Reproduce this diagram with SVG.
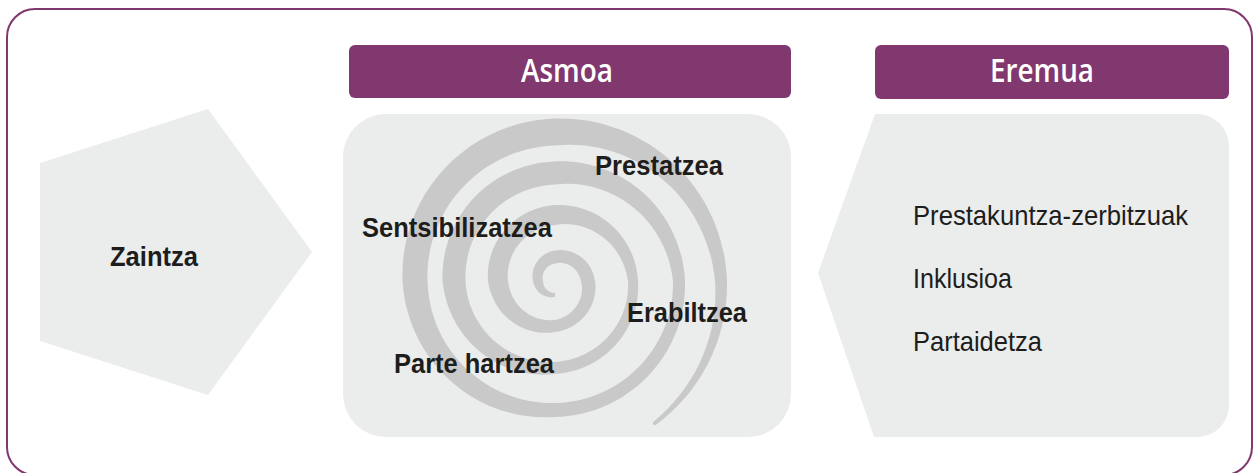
<svg xmlns="http://www.w3.org/2000/svg" width="1253" height="473" viewBox="0 0 1253 473">
<style>
.panel{fill:#ebecec}
.hdr{fill:#80386e}
.hdrt{font-family:"Open Sans","Liberation Sans",sans-serif;font-weight:600;font-size:33px;fill:#ffffff;text-anchor:middle}
.bold{font-family:"Liberation Sans",Arial,sans-serif;font-weight:bold;font-size:28px;fill:#1d1d1b}
.reg{font-family:"Liberation Sans",Arial,sans-serif;font-size:28px;fill:#1d1d1b}
</style>
<rect id="frame" x="7" y="9" width="1245" height="466" rx="28" ry="28" fill="#ffffff" stroke="#80386e" stroke-width="2"/>
<g id="zaintza">
<polygon class="panel" points="40,163 208,109 312,252 208,395 40,341"/>
<text class="bold" x="110" y="266" textLength="88" lengthAdjust="spacingAndGlyphs">Zaintza</text>
</g>
<g id="asmoa-header">
<rect class="hdr" x="349" y="45" width="442" height="53" rx="6"/>
<text class="hdrt" x="567" y="82" textLength="92" lengthAdjust="spacingAndGlyphs">Asmoa</text>
</g>
<g id="asmoa">
<rect class="panel" x="343" y="114" width="448" height="323" rx="43"/>
<path fill="#c9c9c9" d="M555,297 C546.16,299 535,293.15 533,281 C530.17,268.85 538.15,253.33 555,250.5 C571.85,247.33 591.83,258.91 595,281 C598.67,303.09 583.17,328.33 555,332 C526.83,337.33 493.33,318 488,281 C485,244 513.03,208 555,205 C596.97,202.67 635.67,235.16 638,281 C641.33,326.84 606.36,370.67 555,374 C503.64,380.5 449,343.13 442.5,281 C440.17,218.87 489,163.83 555,161.5 C621,158 681.5,209.2 685,281 C687,352.8 630.11,415 555,417 C479.89,422.5 408,365.23 402.5,281 C399.17,196.77 465.25,121.83 555,118.5 C644.75,115.33 723.83,186 727,281 C728.23,337.12 702.06,391.01 655.8,424.9 A2,2 0 0 1 653.5,421.7 C697.16,386.37 718.9,333.2 715,281 C706.83,192.63 629.84,137.33 555,145.5 C480.16,148.17 424.83,210.58 427.5,281 C429.33,351.42 487.62,404.83 555,403 C622.38,401.67 674.33,346.17 673,281 C665.83,215.83 608.3,177.33 555,184.5 C501.7,186.83 463.17,231.57 465.5,281 C468.33,330.43 510.26,364.83 555,362 C599.74,359.33 630.67,321.32 628,281 C622.33,240.68 585.93,219.33 555,225 C524.07,228 505,255.04 508,281 C510.67,306.96 533.46,322.67 555,320 C576.54,315.67 585.33,295.36 581,281 C578.17,266.64 564.67,260.67 555,263.5 C545.33,265.33 541.17,274.37 543,281 C543,287.63 548.37,293 555,293 Z"/>
<text class="bold" x="595" y="175" textLength="128" lengthAdjust="spacingAndGlyphs">Prestatzea</text>
<text class="bold" x="362" y="237" textLength="190" lengthAdjust="spacingAndGlyphs">Sentsibilizatzea</text>
<text class="bold" x="627" y="322" textLength="120" lengthAdjust="spacingAndGlyphs">Erabiltzea</text>
<text class="bold" x="394" y="373" textLength="160" lengthAdjust="spacingAndGlyphs">Parte hartzea</text>
</g>
<g id="eremua-header">
<rect class="hdr" x="875" y="45" width="354" height="54" rx="6"/>
<text class="hdrt" x="1042" y="82" textLength="104" lengthAdjust="spacingAndGlyphs">Eremua</text>
</g>
<g id="eremua">
<path class="panel" d="M875,114 H1197 A32,32 0 0 1 1229,146 V405 A32,32 0 0 1 1197,437 H874 L818,273 Z"/>
<text class="reg" x="913" y="225" textLength="275" lengthAdjust="spacingAndGlyphs">Prestakuntza-zerbitzuak</text>
<text class="reg" x="913" y="288" textLength="99" lengthAdjust="spacingAndGlyphs">Inklusioa</text>
<text class="reg" x="913" y="351" textLength="129" lengthAdjust="spacingAndGlyphs">Partaidetza</text>
</g>
</svg>
